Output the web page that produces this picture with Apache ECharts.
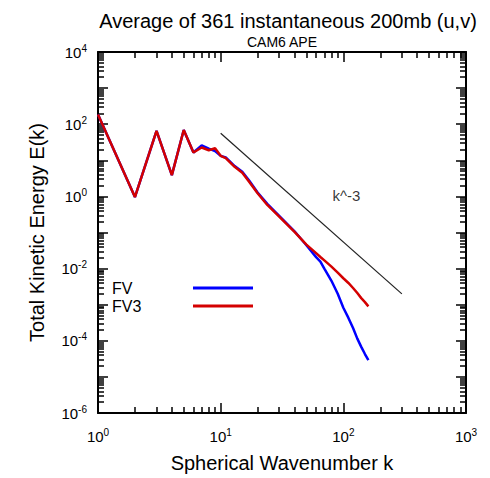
<!DOCTYPE html>
<html><head><meta charset="utf-8">
<script src="https://cdn.jsdelivr.net/npm/echarts@6/dist/echarts.min.js"></script>
<style>html,body{margin:0;padding:0;background:#fff}#c{width:490px;height:478px}</style>
</head><body><div id="c"></div>
<script>
// ---- data ----
const wavenumbers = [1,2,3,4,5,6,7,8,9,10,11,13,15,17,20,24,30,40,50,60,65,70,80,90,100,110,120,130,140,150,160];
const fvEnergy  = [186,0.96,65,3.9,69,16.5,26,21,18,13.3,12,6.9,4.8,2.8,1.28,0.62,0.29,0.108,0.0445,0.0208,0.0157,0.0100,0.0046,0.0020,0.00082,0.00043,0.000225,0.000115,0.000068,0.000043,0.000029];
const fv3Energy = [186,0.96,65,3.9,69,16.5,22.6,19,21.5,13.3,11.5,6.6,4.5,2.6,1.22,0.58,0.275,0.104,0.046,0.0268,0.021,0.0169,0.0113,0.0077,0.0054,0.0040,0.0029,0.0021,0.00152,0.00118,0.0009];
const refWavenumbers = [10, 300];
const refEnergy = [56, 0.002];
const refLabelPos = [107, 1];
const refLabel = 'k^-3';
const seriesNames = ['FV', 'FV3'];
const xMajorTicks = [1, 10, 100, 1000];
const xLabelTicks = [1, 10, 100, 1000];
const yMajorTicks = [1e-6,1e-5,1e-4,1e-3,1e-2,1e-1,1,10,100,1000,10000];
const yLabelTicks = [1e-6,1e-4,1e-2,1,100,10000];
const minorMantissas = [2,3,4,5,6,7,8,9];
const xDecades = [1, 10, 100];
const yDecades = [1e-6,1e-5,1e-4,1e-3,1e-2,1e-1,1,10,100,1000];
const titleText = 'Average of 361 instantaneous 200mb (u,v)';
const subtitleText = 'CAM6 APE';
const xName = 'Spherical Wavenumber k';
const yName = 'Total Kinetic Energy E(k)';

// ---- helpers ----
const FONT = '"Liberation Sans", Arial, Helvetica, sans-serif';
function minorTicksOf(decades) {
  const out = [];
  decades.forEach(d => minorMantissas.forEach(m => out.push(parseFloat((m * d).toPrecision(6)))));
  return out;
}
function sup(v) {
  const e = Math.round(Math.log10(v));
  return '{b|10}{s|' + e + '}';
}
const rich = {
  b: { fontSize: 15, fontFamily: FONT, color: '#000' },
  s: { fontSize: 10, fontFamily: FONT, color: '#000', padding: [0, 0, 8, 0] }
};
const lineStyleAxis = { color: '#000', width: 2 };
function makeAxis(opts) {
  return Object.assign({
    type: 'log', logBase: 10,
    splitLine: { show: false },
    axisLine: { show: false, lineStyle: lineStyleAxis },
    axisLabel: { show: false },
    axisTick: { show: false },
    minorTick: { show: false },
    minorSplitLine: { show: false }
  }, opts);
}
function axisSet(kind, min, max, major, labels, minor) {
  const posA = kind === 'x' ? 'bottom' : 'left';
  const posB = kind === 'x' ? 'top' : 'right';
  const tickMajor = (ticks) => ({ show: true, inside: true, length: 10, customValues: ticks, lineStyle: { color: '#000', width: 1.5 } });
  const tickMinor = (ticks) => ({ show: true, inside: true, length: 6, customValues: ticks, lineStyle: { color: '#000', width: 1.5 } });
  const main = makeAxis({
    position: posA, min, max,
    axisLine: { show: true, onZero: false, lineStyle: lineStyleAxis },
    axisTick: tickMajor(major),
    axisLabel: {
      show: true, customValues: labels, formatter: v => sup(v), rich,
      margin: kind === 'x' ? 14 : 11, hideOverlap: false
    },
    name: kind === 'x' ? xName : yName,
    nameLocation: 'middle',
    nameGap: kind === 'x' ? 40 : 51,
    nameTextStyle: { fontSize: 20, fontFamily: FONT, color: '#000' }
  });
  return [
    main,
    makeAxis({ position: posA, min, max, axisTick: tickMinor(minor) }),
    makeAxis({ position: posB, min, max, axisLine: { show: true, onZero: false, lineStyle: lineStyleAxis }, axisTick: tickMajor(major) }),
    makeAxis({ position: posB, min, max, axisTick: tickMinor(minor) })
  ];
}

const chart = echarts.init(document.getElementById('c'), null, { renderer: 'svg' });
chart.setOption({
  animation: false,
  backgroundColor: '#fff',
  title: [
    { text: titleText, left: 283, top: 6, textAlign: 'center',
      textStyle: { fontSize: 20, fontWeight: 'normal', fontFamily: FONT, color: '#000' } },
    { text: subtitleText, left: 277, top: 30, textAlign: 'center',
      textStyle: { fontSize: 14, fontWeight: 'normal', fontFamily: FONT, color: '#000' } }
  ],
  grid: { left: 98, top: 52, width: 368, height: 364, containLabel: false },
  legend: {
    data: seriesNames, orient: 'vertical', left: 112, top: 280, align: 'right', padding: 0,
    icon: 'rect', itemWidth: 60, itemHeight: 3, itemGap: 2,
    formatter: n => '{t|' + n + '}',
    textStyle: { rich: { t: { width: 76, align: 'left', fontSize: 16, lineHeight: 15, fontFamily: FONT, color: '#000' } } },
    selectedMode: false
  },
  xAxis: axisSet('x', 1, 1000, xMajorTicks, xLabelTicks, minorTicksOf(xDecades)),
  yAxis: axisSet('y', 1e-6, 1e4, yMajorTicks, yLabelTicks, minorTicksOf(yDecades)),
  series: [
    { name: seriesNames[0], type: 'line', xAxisIndex: 0, yAxisIndex: 0, symbol: 'none',
      lineStyle: { color: '#0000ff', width: 2.5 }, itemStyle: { color: '#0000ff' },
      data: wavenumbers.map((k, i) => [k, fvEnergy[i]]) },
    { name: seriesNames[1], type: 'line', xAxisIndex: 0, yAxisIndex: 0, symbol: 'none',
      lineStyle: { color: '#d40000', width: 2.5 }, itemStyle: { color: '#d40000' },
      data: wavenumbers.map((k, i) => [k, fv3Energy[i]]) },
    { name: 'ref', type: 'line', xAxisIndex: 0, yAxisIndex: 0, symbol: 'none',
      lineStyle: { color: '#222', width: 1.2 }, silent: true,
      data: refWavenumbers.map((k, i) => [k, refEnergy[i]]) },
    { name: 'refLabel', type: 'scatter', xAxisIndex: 0, yAxisIndex: 0, symbolSize: 1, silent: true,
      itemStyle: { color: 'rgba(0,0,0,0)' },
      label: { show: true, position: [0, 0], align: 'center', verticalAlign: 'middle',
        formatter: refLabel, fontSize: 15, fontFamily: FONT, color: '#000', textBorderWidth: 0 },
      data: [refLabelPos] }
  ]
});
</script></body></html>
